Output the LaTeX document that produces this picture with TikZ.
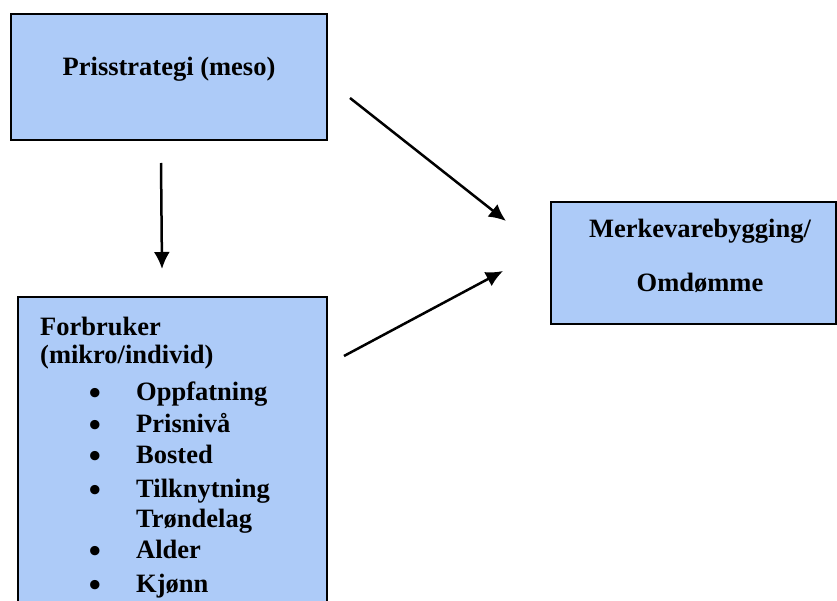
\documentclass[tikz,border=0pt]{standalone}
\usepackage{fontspec}
\setmainfont{Liberation Serif}
\usetikzlibrary{arrows.meta,positioning}
\definecolor{boxblue}{RGB}{173,203,248}
\tikzstyle{block} = [rectangle, draw, line width=2.4pt, fill=boxblue, inner sep=0pt]
\tikzstyle{lbl} = [font=\bfseries\fontsize{26.5}{32}\selectfont, inner sep=0pt]
\tikzstyle{line} = [draw, line width=2.5pt, -{Latex[length=17pt,width=16pt]}]

\begin{document}
\begin{tikzpicture}[x=1pt, y=-1pt]
    \useasboundingbox (0,0) rectangle (837,601);
    % Place boxes
    \node [block, minimum width=316pt, minimum height=126pt] (pris) at (169,77) {};
    \node [block, minimum width=285pt, minimum height=122pt] (merke) at (693.5,263) {};
    \node [block, minimum width=309pt, minimum height=330pt] (forbruker) at (172.5,462) {};

    % Texts
    \node [lbl, anchor=base] (pristxt) at (169,76) {Prisstrategi (meso)};
    \node [lbl, anchor=base] (merketxt) at (700,238) {Merkevarebygging/};
    \node [lbl, anchor=base] (omdtxt) at (700,292) {Omdømme};
    \node [lbl, anchor=base west] (forbtxt) at (40,335) {Forbruker};
    \node [lbl, anchor=base west] (mikrotxt) at (40,363) {(mikro/individ)};
    \foreach \yy/\wort in {400/Oppfatning, 432/Prisnivå, 463/Bosted,
        497/Tilknytning, 558/Alder, 592/Kjønn}{
      \node [lbl, anchor=center] (dot\yy) at (95,\yy-4) {\scalebox{1.3}{\textbullet}};
      \node [lbl, anchor=base west] (item\yy) at (136,\yy) {\wort};
    }
    \node [lbl, anchor=base west] (item527) at (136,527) {Trøndelag};

    % Arrow ends
    \coordinate (a1s) at (161,163);
    \coordinate (a1e) at (162,269);
    \coordinate (a2s) at (350,98);
    \coordinate (a2e) at (506,221);
    \coordinate (a3s) at (344,356);
    \coordinate (a3e) at (503,271);

    % Draw edges
    \path [line] (a1s) -- (a1e);
    \path [line] (a2s) -- (a2e);
    \path [line] (a3s) -- (a3e);
\end{tikzpicture}
\end{document}
